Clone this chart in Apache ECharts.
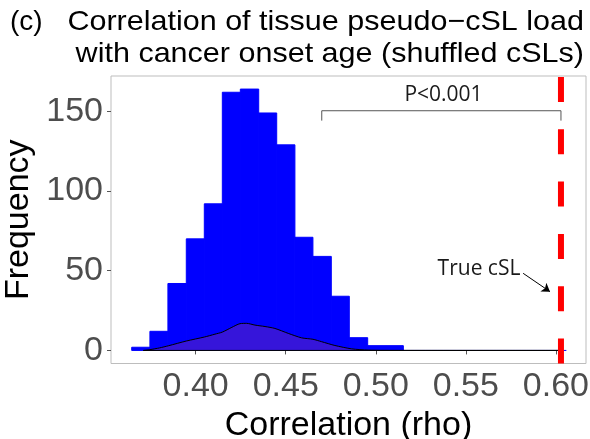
<!DOCTYPE html>
<html>
<head>
<meta charset="utf-8">
<script src="https://cdn.jsdelivr.net/npm/echarts@6/dist/echarts.min.js"></script>
<style>
html,body{margin:0;padding:0;background:#fff;}
#chart{width:590px;height:439px;}
</style>
</head>
<body>
<div id="chart"></div>
<script>
// ---- data ----
const xTicks = [0.40, 0.45, 0.50, 0.55, 0.60];
const yTicks = [0, 50, 100, 150];
const binEdges = [0.3645, 0.3746, 0.3846, 0.3948, 0.4048, 0.4148, 0.4248, 0.4350, 0.4450,
  0.4551, 0.4651, 0.4753, 0.4853, 0.4955, 0.5054, 0.5153, 0.5254, 0.5354, 0.5455, 0.5555,
  0.5656, 0.5757, 0.5857, 0.5958, 0.6058];
const counts = [2, 12, 42, 70, 92, 162, 164, 149, 129, 71, 59, 34, 8, 3, 3,
  0, 0, 0, 0, 0, 0, 0, 0, 0];
const densX = [0.3709, 0.3746, 0.3800, 0.3848, 0.3948, 0.4048, 0.4107, 0.4148, 0.4201, 0.4246,
  0.4283, 0.4329, 0.4385, 0.4440, 0.4514, 0.4588, 0.4651, 0.4699, 0.4773, 0.4866, 0.4958,
  0.5144, 0.6028];
const densY = [0, 0.5, 1.6, 2.9, 5.9, 8.4, 10.2, 11.5, 14.5, 16.8, 17.0, 15.9, 15.0, 13.8,
  10.7, 7.9, 7.0, 5.5, 3.1, 1.0, 0.2, 0, 0];
const trueValue = 0.6028;
const bracketX = [0.47, 0.6028];
const bracketY = [144.2, 150.4];
const annTexts = ['P<0.001', 'True cSL'];
const annX = [0.5376, 0.5573];
const annY = [160.4, 51.3];
const arrowX = [0.5818, 0.5967];
const arrowY = [48.4, 36.9];
const xRange = [0.353, 0.6167];
const yRange = [-8.2, 172.2];

const chart = echarts.init(document.getElementById('chart'), null, {renderer: 'canvas'});
const histData = counts.map((c, i) => [binEdges[i], binEdges[i + 1], c]);
const densData = densX.map((x, i) => [x, densY[i]]);
const annData = annTexts.map((t, i) => [annX[i], annY[i], i]);

const titleFont = {fontSize: 28, fontFamily: 'Liberation Sans', fill: '#000'};
const option = {
  animation: false,
  backgroundColor: '#fff',
  grid: {left: 111, top: 76, width: 475, height: 287.5, show: true,
    borderColor: '#BDBDBD', borderWidth: 1, containLabel: false, outerBoundsMode: 'none'},
  xAxis: {
    type: 'value', min: xRange[0], max: xRange[1],
    name: 'Correlation (rho)', nameLocation: 'middle', nameGap: 37,
    nameTextStyle: {fontFamily: 'Liberation Sans', fontSize: 34, color: '#000'},
    axisLine: {show: false},
    axisTick: {show: true, length: 4, lineStyle: {color: '#555'}, customValues: xTicks},
    axisLabel: {fontFamily: 'Liberation Sans', fontSize: 34, color: '#4D4D4D', margin: 6,
      customValues: xTicks, formatter: v => v.toFixed(2)},
    splitLine: {show: false}
  },
  yAxis: {
    type: 'value', min: yRange[0], max: yRange[1],
    name: 'Frequency', nameLocation: 'middle', nameGap: 61,
    nameTextStyle: {fontFamily: 'Liberation Sans', fontSize: 34, color: '#000'},
    axisLine: {show: false},
    axisTick: {show: true, length: 4, lineStyle: {color: '#555'}, customValues: yTicks},
    axisLabel: {fontFamily: 'Liberation Sans', fontSize: 34, color: '#4D4D4D', margin: 8,
      customValues: yTicks, formatter: v => String(v)},
    splitLine: {show: false}
  },
  graphic: [
    {type: 'text', x: 10, y: 22, style: Object.assign({text: '(c)', align: 'left', verticalAlign: 'middle',
      textAlign: 'left', textVerticalAlign: 'middle'}, titleFont)},
    {type: 'text', x: 584, y: 22, scaleX: 1.09, style: Object.assign({text: 'Correlation of tissue pseudo\u2212cSL load',
      align: 'right', verticalAlign: 'middle', textAlign: 'right', textVerticalAlign: 'middle'}, titleFont)},
    {type: 'text', x: 584, y: 54.5, scaleX: 1.09, style: Object.assign({text: 'with cancer onset age (shuffled cSLs)',
      align: 'right', verticalAlign: 'middle', textAlign: 'right', textVerticalAlign: 'middle'}, titleFont)}
  ],
  series: [
    {
      type: 'custom', name: 'hist', clip: true, z: 2,
      data: histData,
      encode: {x: [0, 1], y: 2},
      renderItem: function (params, api) {
        const x0 = api.value(0), x1 = api.value(1), c = api.value(2);
        const p0 = api.coord([x0, 0]);
        const p1 = api.coord([x1, c]);
        if (c === 0) {
          return {type: 'line', shape: {x1: p0[0], y1: p0[1], x2: p1[0], y2: p0[1]},
            style: {stroke: '#0000FF', lineWidth: 1}};
        }
        return {type: 'rect', shape: {x: p0[0], y: p1[1], width: p1[0] - p0[0], height: p0[1] - p1[1]},
          style: {fill: '#0000FF', stroke: '#0000FF', lineWidth: 1}};
      }
    },
    {
      type: 'line', name: 'density', data: densData, smooth: 0.25, symbol: 'none', z: 3,
      lineStyle: {color: '#000', width: 1},
      areaStyle: {color: '#3615DA', opacity: 1, origin: 0}
    },
    {
      type: 'line', name: 'baseline', data: [[densX[0], 0], [densX[densX.length - 1], 0]],
      symbol: 'none', z: 4, lineStyle: {color: '#000', width: 1}
    },
    {
      type: 'line', name: 'true', data: [[trueValue, yRange[0]], [trueValue, yRange[1]]],
      symbol: 'none', z: 5, lineStyle: {color: '#FF0000', width: 6, type: [25, 27.3], cap: 'butt'}
    },
    {
      type: 'line', name: 'bracket', z: 5, symbol: 'none',
      data: [[bracketX[0], bracketY[0]], [bracketX[0], bracketY[1]], [bracketX[1], bracketY[1]], [bracketX[1], bracketY[0]]],
      lineStyle: {color: '#555', width: 1}
    },
    {
      type: 'lines', name: 'arrow', coordinateSystem: 'cartesian2d', z: 6,
      symbol: ['none', 'arrow'], symbolSize: 8,
      data: [{coords: [[arrowX[0], arrowY[0]], [arrowX[1], arrowY[1]]]}],
      lineStyle: {color: '#000', width: 1, opacity: 1}
    },
    {
      type: 'custom', name: 'annotations', z: 7, clip: false,
      data: annData,
      encode: {x: 0, y: 1},
      renderItem: function (params, api) {
        const p = api.coord([api.value(0), api.value(1)]);
        return {type: 'text', x: p[0], y: p[1],
          style: {text: annTexts[api.value(2)], fontFamily: 'Open Sans', fontSize: 21, fill: '#1a1a1a',
            align: 'center', verticalAlign: 'middle', textAlign: 'center', textVerticalAlign: 'middle'}};
      }
    }
  ]
};
chart.setOption(option);
</script>
</body>
</html>
